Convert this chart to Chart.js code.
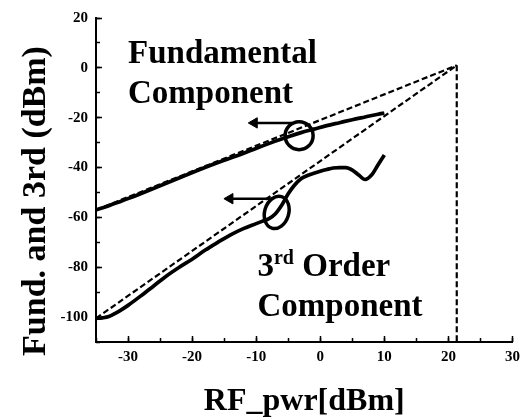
<!DOCTYPE html>
<html><head><meta charset="utf-8">
<script src="https://cdn.jsdelivr.net/npm/chart.js@4.4.1/dist/chart.umd.min.js"></script>
<style>html,body{margin:0;padding:0;background:#fff;}canvas{display:block;}</style>
</head><body>
<canvas id="c" width="528" height="418"></canvas>
<script>
const xTitle = 'RF_pwr[dBm]';
const yTitle = 'Fund. and 3rd (dBm)';
const xMin = -35, xMax = 30;
const yMin = -110, yMax = 20;

const fundX = [-35,-33,-31,-29,-27,-25,-23,-21,-19,-17,-15,-13,-11,-9,-7,-5,-3,-1,1,3,5,7,9,10];
const fundY = [-57,-55.3,-53.4,-51.5,-49.4,-47.3,-45.2,-43.1,-41,-39,-37.1,-35.3,-33.3,-31.3,-29.4,-27.6,-26,-24.6,-23.2,-22,-20.8,-19.7,-18.6,-18.1];

const thirdX = [-35,-34,-33,-32,-31,-30,-28,-26,-24,-22,-20,-18,-16,-14,-12,-10,-9,-8,-7,-6,-5,-4,-3,-2,-1,0,1,2,3,4,5,6,7,8,9,10];
const thirdY = [-100.5,-100.3,-99.8,-98.5,-97,-95.3,-91.5,-87.5,-83.5,-80,-76.8,-73.2,-70,-67,-64.5,-62.5,-61.5,-60.5,-58.5,-55,-50.5,-47,-44.5,-43.2,-42.3,-41.5,-40.8,-40.2,-40,-40,-41,-43,-44.8,-43,-39,-35];

const fundExtrapX = [-35, 21.3];
const fundExtrapY = [-57, 1];
const thirdExtrapX = [-35, 21.3];
const thirdExtrapY = [-100.5, 1];
const iip3X = [21.3, 21.3];
const iip3Y = [1, -110];

const arrowFundX = [-4.4, -10.3];
const arrowFundY = [-22.1, -22.1];
const arrowThirdX = [-7.3, -14.1];
const arrowThirdY = [-52.5, -52.5];

const markFund = [-3.3, -27.2];
const markThird = [-6.8, -58];

const noteFund = ['Fundamental', 'Component'];
const noteThird = ['3', 'rd', ' Order', 'Component'];

const FAM = "'Liberation Serif','Times New Roman',serif";

function pts(xs, ys) { return xs.map((x, i) => ({x, y: ys[i]})); }

const solid = {borderColor:'#000', borderWidth:3.7, pointRadius:0, fill:false, cubicInterpolationMode:'monotone'};
const dashed = {borderColor:'#000', borderWidth:2.2, borderDash:[6,3], pointRadius:0, fill:false, tension:0};
const arrow = {borderColor:'#000', backgroundColor:'#000', borderWidth:2.5, pointStyle:'triangle', pointRotation:-90, pointRadius:[0,6], pointBorderWidth:1, fill:false};

const annot = {
  id: 'annot',
  afterDatasetsDraw(chart) {
    const {ctx} = chart;
    const xs = chart.scales.x, ys = chart.scales.y;
    ctx.save();
    ctx.strokeStyle = '#000';
    ctx.lineWidth = 3.5;
    ctx.beginPath();
    ctx.ellipse(xs.getPixelForValue(markFund[0]), ys.getPixelForValue(markFund[1]), 14, 14, 0, 0, Math.PI*2);
    ctx.stroke();
    ctx.beginPath();
    ctx.ellipse(xs.getPixelForValue(markThird[0]), ys.getPixelForValue(markThird[1]), 12, 16.5, 0.3, 0, Math.PI*2);
    ctx.stroke();

    ctx.fillStyle = '#000';
    ctx.textAlign = 'left';
    ctx.textBaseline = 'alphabetic';
    ctx.font = 'bold 33px ' + FAM;
    ctx.fillText(noteFund[0], xs.getPixelForValue(-30), ys.getPixelForValue(2));
    ctx.fillText(noteFund[1], xs.getPixelForValue(-30), ys.getPixelForValue(-14));
    const tx = xs.getPixelForValue(-9.8), ty = ys.getPixelForValue(-83.6);
    ctx.fillText(noteThird[0], tx, ty);
    const w3 = ctx.measureText(noteThird[0]).width;
    ctx.font = 'bold 20px ' + FAM;
    ctx.fillText(noteThird[1], tx + w3, ty - 12);
    const wrd = ctx.measureText(noteThird[1]).width;
    ctx.font = 'bold 33px ' + FAM;
    ctx.fillText(noteThird[2], tx + w3 + wrd, ty);
    ctx.fillText(noteThird[3], tx, ys.getPixelForValue(-99.6));

    // y axis title
    ctx.translate(45, 201);
    ctx.rotate(-Math.PI/2);
    ctx.textAlign = 'center';
    ctx.font = 'bold 34px ' + FAM;
    ctx.fillText(yTitle, 0, 0);
    ctx.restore();
  }
};

function tickAxis(axis, pos, step, len) {
  return {
    type: 'linear', axis: axis, position: pos,
    min: axis === 'x' ? xMin : yMin, max: axis === 'x' ? xMax : yMax,
    border: {display: false},
    grid: {drawOnChartArea: false, drawTicks: true, tickLength: len, color: '#000', tickColor: '#000', tickWidth: 1.5},
    ticks: {stepSize: step, includeBounds: false, display: false, padding: 0}
  };
}

new Chart(document.getElementById('c'), {
  type: 'line',
  data: {
    datasets: [
      Object.assign({label:'Fundamental', data: pts(fundX, fundY)}, solid),
      Object.assign({label:'3rd Order', data: pts(thirdX, thirdY)}, solid),
      Object.assign({label:'Fund. extrapolation', data: pts(fundExtrapX, fundExtrapY)}, dashed),
      Object.assign({label:'3rd extrapolation', data: pts(thirdExtrapX, thirdExtrapY)}, dashed),
      Object.assign({label:'Intercept', data: pts(iip3X, iip3Y)}, dashed),
      Object.assign({label:'arrow1', data: pts(arrowFundX, arrowFundY)}, arrow),
      Object.assign({label:'arrow2', data: pts(arrowThirdX, arrowThirdY)}, arrow)
    ]
  },
  options: {
    responsive: false,
    animation: false,
    devicePixelRatio: 1,
    layout: {padding: {top: 18, right: 15.5, left: 0, bottom: 0}},
    plugins: {legend: {display: false}, tooltip: {enabled: false}},
    scales: {
      x: {
        type: 'linear', position: 'bottom', min: xMin, max: xMax,
        afterFit: s => { s.height = 76; },
        border: {display: true, color: '#000', width: 2},
        grid: {drawOnChartArea: false, drawTicks: false, color: '#000'},
        ticks: {stepSize: 10, includeBounds: false, color: '#000', font: {family: FAM, size: 15, weight: 'bold'}, padding: 6, maxRotation: 0, autoSkip: false},
        title: {display: true, text: xTitle, color: '#000', font: {family: FAM, size: 32, weight: 'bold', lineHeight: 1}, padding: {top: 0, bottom: 0}}
      },
      y: {
        type: 'linear', position: 'left', min: yMin, max: yMax,
        afterFit: s => { s.width = 96; },
        border: {display: true, color: '#000', width: 2},
        grid: {drawOnChartArea: false, drawTicks: false, color: '#000'},
        ticks: {stepSize: 20, includeBounds: false, color: '#000', font: {family: FAM, size: 15, weight: 'bold'}, padding: 8, autoSkip: false}
      },
      xMajor: tickAxis('x', {y: yMin}, 10, -6),
      xMinor: tickAxis('x', {y: yMin}, 5, -4),
      yMajor: tickAxis('y', {x: xMin}, 20, -6),
      yMinor: tickAxis('y', {x: xMin}, 10, -4)
    }
  },
  plugins: [annot]
});
</script>
</body></html>
